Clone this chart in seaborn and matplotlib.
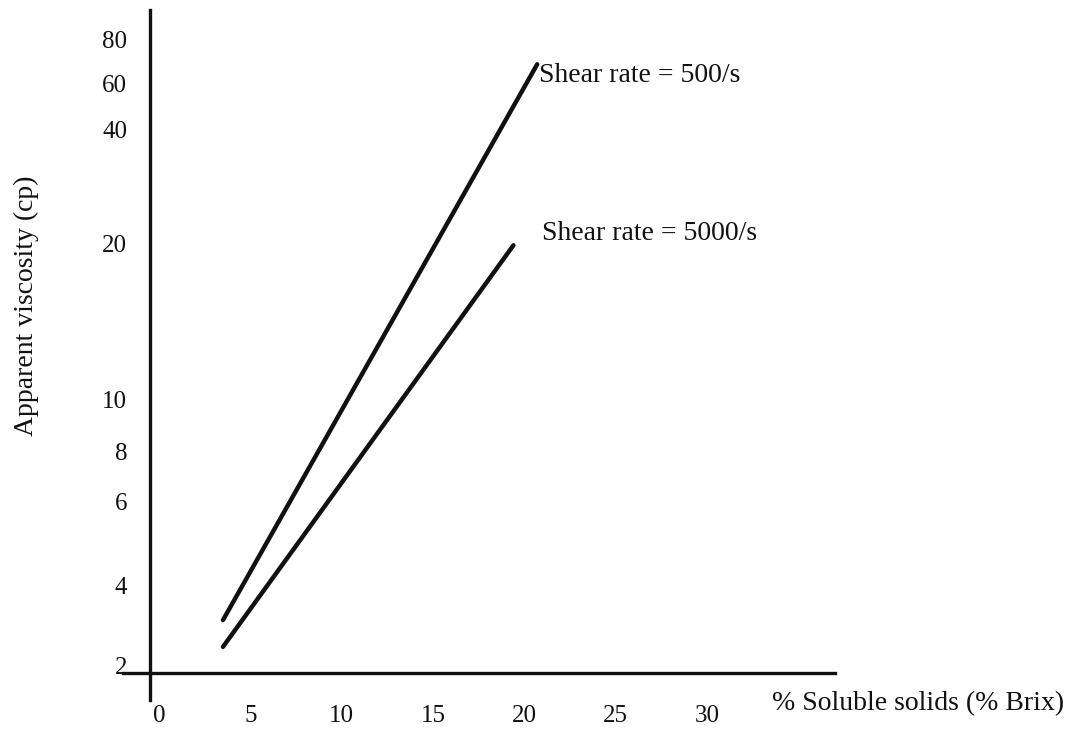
import numpy as np
import pandas as pd
import matplotlib
matplotlib.use("Agg")
import matplotlib.pyplot as plt
import seaborn as sns

# values
brix_500 = [3.5, 20.7]
visc_500 = [2.95, 68.0]
brix_5000 = [3.5, 19.4]
visc_5000 = [2.34, 19.8]
series_labels = ["Shear rate = 500/s", "Shear rate = 5000/s"]

x_ticks = [0, 5, 10, 15, 20, 25, 30]
y_ticks = [2, 4, 6, 8, 10, 20, 40, 60, 80]

# the printed viscosity axis is not a true log axis; its label spacing
# (height above the "2" label, px) is used to build the scale
y_anchor_height = [0, 80, 163, 214, 265, 422, 535, 582, 625]


def fwd(v):
    v = np.asarray(v, dtype=float)
    lv = np.log10(np.clip(v, 1e-9, None))
    la = np.log10(y_ticks)
    h = np.array(y_anchor_height, dtype=float)
    out = np.interp(lv, la, h)
    lo = lv < la[0]
    hi = lv > la[-1]
    out = np.where(lo, h[0] + (lv - la[0]) * (h[1] - h[0]) / (la[1] - la[0]), out)
    out = np.where(hi, h[-1] + (lv - la[-1]) * (h[-1] - h[-2]) / (la[-1] - la[-2]), out)
    return out


def inv(hv):
    hv = np.asarray(hv, dtype=float)
    la = np.log10(y_ticks)
    h = np.array(y_anchor_height, dtype=float)
    out = np.interp(hv, h, la)
    lo = hv < h[0]
    hi = hv > h[-1]
    out = np.where(lo, la[0] + (hv - h[0]) * (la[1] - la[0]) / (h[1] - h[0]), out)
    out = np.where(hi, la[-1] + (hv - h[-1]) * (la[-1] - la[-2]) / (h[-1] - h[-2]), out)
    return 10 ** out


df = pd.DataFrame({
    "brix": brix_500 + brix_5000,
    "visc": visc_500 + visc_5000,
    "serie": [series_labels[0]] * 2 + [series_labels[1]] * 2,
})

sns.set_theme(style="white")
plt.rcParams["font.family"] = ["Liberation Serif", "DejaVu Serif"]

fig = plt.figure(figsize=(10.66, 7.29), dpi=100)
ax = fig.add_axes([123 / 1066, 1 - 700 / 729, (835 - 123) / 1066, 690 / 729])

sns.lineplot(data=df, x="brix", y="visc", hue="serie", palette=["#111111", "#111111"],
             linewidth=3.2, legend=False, ax=ax, estimator=None, sort=False)

ax.set_yscale("function", functions=(fwd, inv))
ax.set_ylim(float(inv(-35)), float(inv(655)))
ax.set_xlim(-1.97, 37.0)

ax.set_xticks(x_ticks)
ax.set_xticklabels([str(t) for t in x_ticks])
ax.set_yticks(y_ticks)
ax.set_yticklabels([str(t) for t in y_ticks])
ax.minorticks_off()
ax.tick_params(axis="x", length=0, pad=23, labelsize=18, colors="#111111")
ax.tick_params(axis="y", length=0, pad=16.5, labelsize=18, colors="#111111")

for s in ["top", "right"]:
    ax.spines[s].set_visible(False)
ax.spines["left"].set_position(("data", -0.49))
ax.spines["bottom"].set_position(("data", float(inv(-8))))
for s in ["left", "bottom"]:
    ax.spines[s].set_color("#111111")
    ax.spines[s].set_linewidth(2.4)

ax.set_xlabel("")
ax.set_ylabel("")

ax.annotate(series_labels[0], xy=(brix_500[-1], visc_500[-1]), xytext=(2, -11),
            textcoords="offset pixels", ha="left", va="center", fontsize=20, color="#111111")
ax.annotate(series_labels[1], xy=(brix_5000[-1], visc_5000[-1]), xytext=(29, 12),
            textcoords="offset pixels", ha="left", va="center", fontsize=20, color="#111111")

fig.text(772 / 1066, 1 - 704 / 729, "% Soluble solids (% Brix)", ha="left", va="center",
         fontsize=20, color="#111111")
fig.text(26 / 1066, 1 - 306 / 729, "Apparent viscosity (cp)", ha="center", va="center",
         rotation=90, fontsize=20, color="#111111")

fig.savefig("out.png", dpi=100)
plt.close(fig)
